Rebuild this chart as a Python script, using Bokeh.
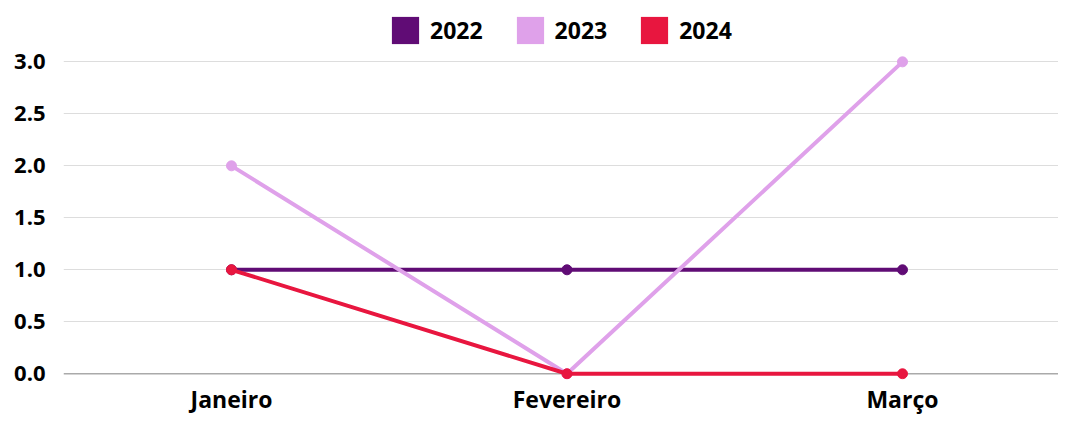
from bokeh.plotting import figure
from bokeh.models import FixedTicker, Range1d, Span, Legend, LegendItem, ColumnDataSource, NumeralTickFormatter
from bokeh.embed import file_html
from bokeh.resources import INLINE

months = ["Janeiro", "Fevereiro", "Março"]
series_names = ["2022", "2023", "2024"]
values_2022 = [1, 1, 1]
values_2023 = [2, 0, 3]
values_2024 = [1, 0, 0]
y_ticks = [0, 0.5, 1.0, 1.5, 2.0, 2.5, 3.0]
colors = ["#600C75", "#DFA1EA", "#E8163F"]

FONT = "Open Sans"
W, H = 1058, 417
TOP, BOTTOM, LEFT = 0, 35, 63

# frame extends to the top so the legend can sit inside it
p = figure(width=W, height=H, output_backend="svg", toolbar_location=None,
           x_range=Range1d(-0.5007, 2.465), y_range=Range1d(-0.055, 3.59),
           min_border_left=LEFT, min_border_right=0, min_border_top=TOP, min_border_bottom=BOTTOM)
p.outline_line_color = None
p.background_fill_color = "white"
p.border_fill_color = "white"

xs = list(range(len(months)))
renderers = []
for name, vals, c in zip(series_names, [values_2022, values_2023, values_2024], colors):
    src = ColumnDataSource(dict(x=xs, y=vals))
    p.line("x", "y", source=src, line_color=c, line_width=4)
    p.scatter("x", "y", source=src, size=10, fill_color=c, line_color=c)
    # zero-area quad used only for the legend swatch
    dummy = p.quad(left=[xs[0]], right=[xs[0]], top=[vals[0]], bottom=[vals[0]],
                   fill_color=c, line_color=None, fill_alpha=1.0)
    renderers.append((name, dummy))

p.xaxis.ticker = FixedTicker(ticks=xs)
p.xaxis.major_label_overrides = {i: m for i, m in enumerate(months)}
p.yaxis.ticker = FixedTicker(ticks=y_ticks)
p.yaxis.formatter = NumeralTickFormatter(format="0.0")

for ax in (p.xaxis, p.yaxis):
    ax.axis_line_color = None
    ax.major_tick_line_color = None
    ax.minor_tick_line_color = None
    ax.major_tick_out = 0
    ax.major_tick_in = 0
    ax.minor_tick_out = 0
    ax.major_label_text_font = FONT
    ax.major_label_text_font_style = "bold"
    ax.major_label_text_color = "black"
p.yaxis.major_label_text_font_size = "22px"
p.xaxis.major_label_text_font_size = "23px"
p.yaxis.major_label_standoff = 18
p.xaxis.major_label_standoff = 3

p.xgrid.grid_line_color = None
p.ygrid.grid_line_color = "#DDDDDD"
p.ygrid.grid_line_width = 1
p.ygrid.ticker = FixedTicker(ticks=y_ticks[1:])
p.add_layout(Span(location=0, dimension="width", line_color="#AAAAAA", line_width=1.5, level="underlay"))

frame_bottom = H - BOTTOM
legend = Legend(items=[LegendItem(label=n, renderers=[r]) for n, r in renderers],
                orientation="horizontal", location=(325, frame_bottom - 49.6),
                glyph_width=34, glyph_height=34, label_standoff=8, spacing=30,
                padding=4, margin=0, border_line_color=None, background_fill_alpha=0,
                label_text_font=FONT, label_text_font_style="bold",
                label_text_font_size="23px", label_text_color="black")
p.add_layout(legend, "center")

open("out.html", "w").write(file_html(p, INLINE))
